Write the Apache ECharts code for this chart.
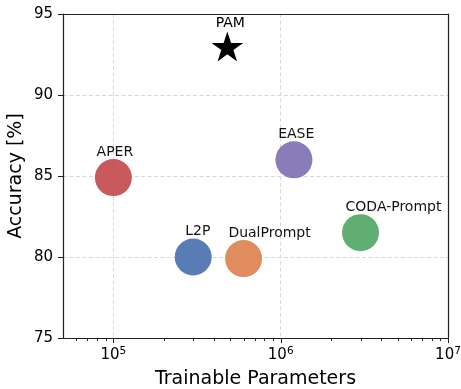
<!DOCTYPE html>
<html>
<head>
<meta charset="utf-8">
<script src="https://cdn.jsdelivr.net/npm/echarts@6/dist/echarts.min.js"></script>
<style>
  html, body { margin: 0; padding: 0; background: #fff; }
  #chart { width: 461px; height: 389px; }
</style>
</head>
<body>
<div id="chart"></div>
<script>
// ---- data ----
const methods = ['APER', 'L2P', 'DualPrompt', 'EASE', 'CODA-Prompt'];
const params = [1e5, 3e5, 6e5, 1.2e6, 3e6];
const accuracy = [84.9, 80.0, 79.9, 86.0, 81.5];
const colors = ['#c44e52', '#4c72b0', '#dd8452', '#8172b3', '#55a868'];
const oursName = 'PAM';
const oursParams = 4.8e5;
const oursAccuracy = 92.9;
const yTicks = [75, 80, 85, 90, 95];
const xMajorTicks = [1e5, 1e6, 1e7];
const xMinorTicks = [6e4, 7e4, 8e4, 9e4,
  2e5, 3e5, 4e5, 5e5, 6e5, 7e5, 8e5, 9e5,
  2e6, 3e6, 4e6, 5e6, 6e6, 7e6, 8e6, 9e6];

// label placement (pixel nudges, style only)
const labelDx = [1.5, 4.7, 26, 2.3, 33];
const oursLabelDx = 3;

const FONT = 'DejaVu Sans';
const AXIS_COLOR = '#222';
const starPath = 'path://M0,-100 L22.45,-30.9 L95.11,-30.9 L36.33,11.8 L58.78,80.9 L0,38.2 L-58.78,80.9 L-36.33,11.8 L-95.11,-30.9 L-22.45,-30.9 Z';

const chart = echarts.init(document.getElementById('chart'), null, { renderer: 'canvas' });

const labelBase = {
  show: true,
  position: 'inside',
  align: 'center',
  verticalAlign: 'bottom',
  color: '#000',
  fontFamily: FONT,
  fontSize: 14
};

const scatterData = methods.map((m, i) => ({
  name: m,
  value: [params[i], accuracy[i]],
  itemStyle: { color: colors[i], opacity: 0.93 },
  label: Object.assign({}, labelBase, { formatter: m, offset: [labelDx[i], -18.5] })
}));

function tickSeries(values, len) {
  return {
    type: 'custom',
    coordinateSystem: 'cartesian2d',
    xAxisIndex: 0,
    yAxisIndex: 0,
    clip: false,
    silent: true,
    z: 5,
    data: values.map(v => [v, yTicks[0]]),
    renderItem: function (p, api) {
      const pt = api.coord([api.value(0), api.value(1)]);
      const x = Math.round(pt[0]) + 0.5;
      return {
        type: 'line',
        shape: { x1: x, y1: pt[1], x2: x, y2: pt[1] + len },
        style: { stroke: AXIS_COLOR, lineWidth: 1 }
      };
    }
  };
}

const gridLine = { show: true, lineStyle: { color: '#d9d9d9', type: [4, 2.5], width: 1 }, showMinLine: false, showMaxLine: false };

const option = {
  backgroundColor: '#fff',
  animation: false,
  grid: {
    left: 63, right: 13, top: 14, bottom: 51,
    containLabel: false,
    outerBoundsMode: 'none',
    show: false
  },
  xAxis: [{
    type: 'log',
    logBase: 10,
    min: 5e4,
    max: 1e7,
    name: 'Trainable Parameters',
    nameLocation: 'middle',
    nameGap: 32,
    nameTextStyle: { fontFamily: FONT, fontSize: 19, color: '#000' },
    axisLine: { show: true, lineStyle: { color: AXIS_COLOR, width: 1.2 } },
    axisTick: { show: false },
    axisLabel: {
      margin: 8,
      showMinLabel: false,
      formatter: function (v) {
        const e = Math.round(Math.log10(v));
        if (Math.abs(v - Math.pow(10, e)) / v > 1e-6) return '';
        return '{b|10}{s|' + e + '}';
      },
      rich: {
        b: { fontFamily: FONT, fontSize: 15, color: '#000', lineHeight: 18 },
        s: { fontFamily: FONT, fontSize: 10.5, color: '#000', lineHeight: 10, verticalAlign: 'top' }
      }
    },
    splitLine: gridLine,
    minorTick: { show: false },
    minorSplitLine: { show: false }
  }, {
    type: 'value',
    position: 'top',
    min: 0, max: 1,
    axisLine: { show: true, onZero: false, lineStyle: { color: AXIS_COLOR, width: 1.2 } },
    axisTick: { show: false }, axisLabel: { show: false }, splitLine: { show: false }
  }],
  yAxis: [{
    type: 'value',
    min: 75,
    max: 95,
    interval: 5,
    name: 'Accuracy [%]',
    nameLocation: 'middle',
    nameRotate: 90,
    nameGap: 37,
    nameMoveOverlap: false,
    nameTextStyle: { fontFamily: FONT, fontSize: 19, color: '#000' },
    axisLine: { show: true, lineStyle: { color: AXIS_COLOR, width: 1.2 } },
    axisTick: { show: true, length: 5, lineStyle: { color: AXIS_COLOR, width: 1 } },
    axisLabel: { margin: 10, fontFamily: FONT, fontSize: 15, color: '#000' },
    splitLine: gridLine
  }, {
    type: 'value',
    position: 'right',
    min: 0, max: 1,
    axisLine: { show: true, onZero: false, lineStyle: { color: AXIS_COLOR, width: 1.2 } },
    axisTick: { show: false }, axisLabel: { show: false }, splitLine: { show: false }
  }],
  series: [
    {
      type: 'scatter',
      symbol: 'circle',
      symbolSize: 37,
      z: 3,
      data: scatterData
    },
    {
      type: 'scatter',
      symbol: starPath,
      symbolSize: [31.6, 30],
      symbolOffset: [0, -1.6],
      z: 4,
      data: [{
        name: oursName,
        value: [oursParams, oursAccuracy],
        itemStyle: { color: '#000', opacity: 1 },
        label: Object.assign({}, labelBase, { formatter: oursName, offset: [oursLabelDx, -15.9] })
      }]
    },
    tickSeries(xMajorTicks, 5),
    tickSeries(xMinorTicks, 3)
  ]
};

chart.setOption(option);
</script>
</body>
</html>
